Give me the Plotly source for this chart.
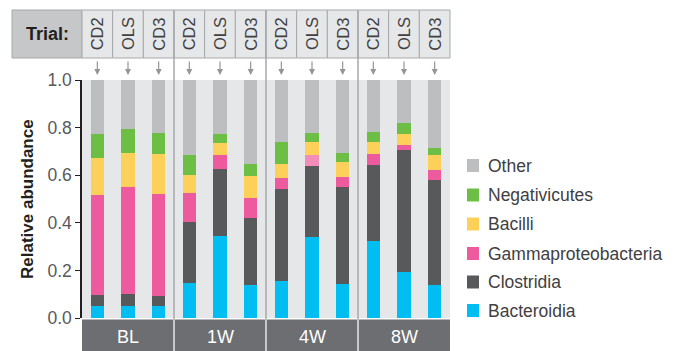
import plotly.graph_objects as go

# Samples: three trials at each of four time points
timepoints = ["BL", "1W", "4W", "8W"]
trials = ["CD2", "OLS", "CD3"]

# Relative abundance of each class per sample (bottom to top of stack)
bacteroidia = [0.050, 0.050, 0.050, 0.147, 0.345, 0.138, 0.155, 0.340, 0.143, 0.323, 0.193, 0.138]
clostridia = [0.047, 0.051, 0.042, 0.256, 0.281, 0.282, 0.386, 0.299, 0.408, 0.320, 0.513, 0.442]
gammaproteobacteria = [0.420, 0.449, 0.429, 0.122, 0.059, 0.084, 0.047, 0.046, 0.041, 0.046, 0.021, 0.042]
bacilli = [0.155, 0.143, 0.168, 0.076, 0.050, 0.092, 0.059, 0.055, 0.063, 0.051, 0.046, 0.063]
negativicutes = [0.101, 0.101, 0.087, 0.084, 0.038, 0.051, 0.093, 0.037, 0.038, 0.042, 0.046, 0.029]
other = [0.227, 0.206, 0.224, 0.315, 0.227, 0.353, 0.260, 0.223, 0.307, 0.218, 0.181, 0.286]

series = [
    ("Bacteroidia", bacteroidia, "#00bdf2"),
    ("Clostridia", clostridia, "#58595b"),
    ("Gammaproteobacteria", gammaproteobacteria, "#ee5a9e"),
    ("Bacilli", bacilli, "#fdd05a"),
    ("Negativicutes", negativicutes, "#6dbe45"),
    ("Other", other, "#bcbec0"),
]

y_ticks = [0.0, 0.2, 0.4, 0.6, 0.8, 1.0]

n = len(timepoints) * len(trials)
xs = list(range(n))
labels = [f"{tp} {tr}" for tp in timepoints for tr in trials]

fig = go.Figure()
for name, vals, col in series:
    colors = [col] * n
    if name == "Gammaproteobacteria":
        colors[7] = "#f28cb9"
    fig.add_trace(go.Bar(
        x=xs, y=vals, name=name, width=0.43,
        marker=dict(color=colors, line=dict(width=0)),
        customdata=labels, hovertemplate="%{customdata}<br>" + name + ": %{y:.2f}<extra></extra>",
        showlegend=False,
    ))

# Pixel geometry helpers (figure 682x351, plot area 82..450 x 80..318)
L, R, T, B = 82, 450, 80, 318
def px(x):
    return (x - L) / (R - L)
def py(y):
    return (B - y) / (B - T)

shapes = []
annotations = []
grey_line = "#a7a9ac"
FONT = "Liberation Sans"

def label(x, y, text, size, color, xanchor="center", angle=0):
    annotations.append(dict(xref="paper", yref="paper", x=x, y=y, text=text,
                            xanchor=xanchor, yanchor="middle", textangle=angle,
                            showarrow=False, font=dict(size=size, color=color, family=FONT)))

# Header: "Trial:" box and one cell per sample
shapes.append(dict(type="rect", xref="paper", yref="paper", x0=px(12), x1=px(82),
                   y0=py(58), y1=py(10), fillcolor="#c6c7c9", line=dict(color=grey_line, width=1)))
label(px(47.5), py(34), "<b>Trial:</b>", 18, "#231f20")
for i in range(n):
    shapes.append(dict(type="rect", xref="paper", yref="paper", x0=i / n, x1=(i + 1) / n,
                       y0=py(58), y1=py(10), fillcolor="#e6e7e8", line=dict(color=grey_line, width=1)))
    label((i + 0.5) / n, py(34), trials[i % 3], 16.5, "#414042", angle=-90)
    annotations.append(dict(xref="paper", yref="paper", x=(i + 0.5) / n, y=py(75),
                            ax=0, ay=-15, text="", showarrow=True, arrowhead=2, arrowsize=1,
                            arrowwidth=1.2, arrowcolor="#939598"))

# Bottom band with time point labels
shapes.append(dict(type="rect", xref="paper", yref="paper", x0=0, x1=1, y0=py(351), y1=py(319.5),
                   fillcolor="#6d6e71", line=dict(width=0)))
for g, tp in enumerate(timepoints):
    label((3 * g + 1.5) / n, py(337), tp, 18, "white")

# Group separators
for g in range(1, len(timepoints)):
    xg = 3 * g / n
    shapes.append(dict(type="line", xref="paper", yref="paper", x0=xg, x1=xg, y0=py(319.5), y1=py(10),
                       line=dict(color=grey_line, width=1.5)))
    shapes.append(dict(type="line", xref="paper", yref="paper", x0=xg, x1=xg, y0=py(351), y1=py(319.5),
                       line=dict(color="#e6e7e8", width=1.5)))

# Legend (top entry first)
legend_y = [165.5, 195, 224, 253.5, 282, 310.5]
for (name, vals, col), yy in zip(reversed(series), legend_y):
    shapes.append(dict(type="rect", xref="paper", yref="paper", x0=px(467), x1=px(479),
                       y0=py(yy + 6.5), y1=py(yy - 6.5), fillcolor=col, line=dict(width=0)))
    label(px(486), py(yy), name, 17.5, "#414042", xanchor="left")

# Y axis title
label(px(27), 0.5, "<b>Relative abundance</b>", 17, "#231f20", angle=-90)

fig.update_layout(
    width=682, height=351,
    margin=dict(l=L, r=682 - R, t=T, b=351 - B, pad=0),
    barmode="stack",
    plot_bgcolor="#e6e7e8", paper_bgcolor="white",
    xaxis=dict(range=[-0.5, n - 0.5], showticklabels=False, ticks="", showgrid=False,
               zeroline=False, showline=False),
    yaxis=dict(range=[0, 1], tickvals=y_ticks, ticktext=[f"{v:.1f}" for v in y_ticks],
               ticks="outside", ticklen=5, tickwidth=1, tickcolor="#231f20",
               showline=True, linecolor="#231f20", linewidth=1.5,
               showgrid=False, zeroline=False,
               tickfont=dict(size=17.5, color="#58595b", family=FONT)),
    shapes=shapes, annotations=annotations,
    bargap=0,
)

fig.write_html("out.html")
